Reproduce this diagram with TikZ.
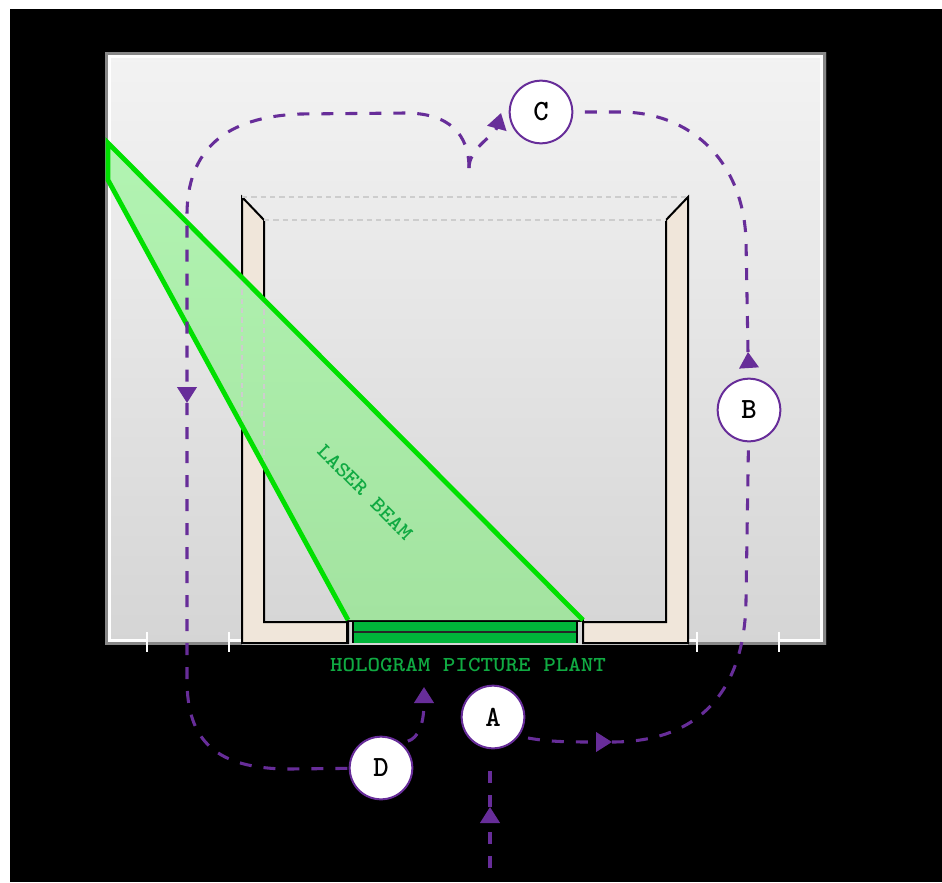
\documentclass[tikz,border=0pt]{standalone}
\usepackage{tikz}
\usepackage{xcolor}
\usetikzlibrary{arrows.meta}
\definecolor{myblack}{RGB}{0,0,0}
\definecolor{mypurple}{RGB}{103,45,153}
\definecolor{mybeam}{RGB}{0,224,0}
\definecolor{myplant}{RGB}{0,181,58}
\definecolor{mylabel}{RGB}{16,170,66}
\definecolor{mywall}{RGB}{240,230,218}
\definecolor{myframe}{RGB}{136,136,136}
\definecolor{myhidden}{RGB}{205,205,205}
\definecolor{mytop}{RGB}{243,243,243}
\definecolor{mybottom}{RGB}{213,213,213}
\definecolor{beamtop}{RGB}{178,244,178}
\definecolor{beambottom}{RGB}{163,227,160}
\tikzset{
    stage/.style={
        circle,
        draw=mypurple,
        fill=white,
        line width=1.5pt,
        minimum size=47pt,
        inner sep=0pt,
        font=\ttfamily\bfseries\fontsize{22}{26}\selectfont
    },
    flow/.style={
        mypurple,
        line width=2.3pt,
        dash pattern=on 9pt off 9pt
    },
    tip/.style={-{Triangle[length=12pt,width=14.5pt]}},
    wall/.style={
        draw=black,
        fill=mywall,
        line width=1.5pt,
        line join=miter
    },
    hidden/.style={myhidden,line width=0.8pt,dash pattern=on 4pt off 3pt},
    edge/.style={white,line width=2.25pt},
    caption/.style={
        mylabel,
        inner sep=0pt,
        font=\ttfamily\bfseries\fontsize{16}{18}\selectfont,
        xscale=1.12
    }
}
\begin{document}
\begin{tikzpicture}[x=0.75pt,y=-0.75pt]
\useasboundingbox (0,0) rectangle (942,882);
\fill[myblack] (10,9) rectangle (942,882);

% frame
\shade[top color=mytop,bottom color=mybottom] (105,52) rectangle (826,644);
\draw[myframe,line width=2.25pt] (242,643.5) -- (106.5,643.5) -- (106.5,53.5) -- (824.5,53.5) -- (824.5,643.5) -- (688,643.5);
\draw[edge] (147,640.5) -- (109.5,640.5) -- (109.5,56.5) -- (821.5,56.5) -- (821.5,640.5) -- (779,640.5);
\draw[edge] (229,640.5) -- (242,640.5);
\draw[edge] (688,640.5) -- (697,640.5);
\foreach \x in {147,229,697,779} {
    \draw[white,line width=1.8pt] (\x,632) -- (\x,652);
}

% tank
\draw[wall] (242,197) -- (264,220) -- (264,622) -- (348,622) -- (348,643) -- (242,643) -- cycle;
\draw[wall] (688,197) -- (666,220) -- (666,622) -- (583,622) -- (583,643) -- (688,643) -- cycle;
\draw[hidden] (242,197) -- (688,197);
\draw[hidden] (264,220) -- (666,220);

% plant
\fill[myplant] (353,622) rectangle (577,643);
\draw[black!85,line width=1.1pt] (353,632) -- (577,632);
\draw[black,line width=1pt] (347,619) -- (347,643);
\draw[black,line width=1pt] (353,619) -- (353,643);
\draw[black,line width=1pt] (577,619) -- (577,643);
\draw[black,line width=1pt] (583,619) -- (583,643);
\draw[black,line width=1pt] (347,621) -- (583,621);

% beam
\shade[top color=beamtop,bottom color=beambottom] (108,143) -- (583,620) -- (348,620) -- (108,180) -- cycle;
\draw[hidden] (242,280) -- (242,425);
\draw[hidden] (264,300) -- (264,465);
\draw[mybeam,line width=3.6pt,line join=miter] (348,620) -- (108,180) -- (108,143) -- (583,620);
\node[rotate=-45,caption] (beam) at (365,492) {LASER BEAM};
\node[caption] (plant) at (468,665) {HOLOGRAM PICTURE PLANT};

% stages
\node[stage] (A) at (493,717) {A};
\node[stage] (B) at (749,410) {B};
\node[stage] (C) at (541,112) {C};
\node[stage] (D) at (381,768) {D};

\coordinate (in) at (490,868);
\coordinate (inTip) at (490,807);
\coordinate (abTip) at (612,742);
\coordinate (bTip) at (748,352);
\coordinate (join) at (469,168);
\coordinate (cTip) at (501,113);
\coordinate (lTip) at (187,403);
\coordinate (dTip) at (424,687);

\draw[flow,tip] (in) -- (inTip);
\draw[flow,shorten >=8pt] (inTip) -- (inTip |- A.south);
\draw[flow,tip] (A) ++(35,21) .. controls (550,742) and (570,742) .. (abTip);
\draw[flow,shorten >=5pt] (abTip) .. controls (700,742) and (745,690) .. (746,600) -- (B);
\draw[tip,mypurple,line width=2pt] (B.north) ++(0,-10) -- (bTip);
\draw[flow,shorten >=6pt] (bTip) -- (746,240) .. controls (743,160) and (690,112) .. (620,112) -- (C);
\draw[flow,tip] (join) .. controls (469,148) and (495,135) .. (cTip);
\draw[flow,tip] (join) .. controls (469,135) and (450,113) .. (405,113) -- (300,114) .. controls (225,117) and (187,150) .. (187,215) -- (lTip);
\draw[flow] (lTip) -- (187,680) .. controls (187,740) and (215,769) .. (290,769) -- (D);
\draw[flow,tip] (D.north east) ++(4,-4) .. controls (418,738) and (424,725) .. (dTip);
\end{tikzpicture}
\end{document}
